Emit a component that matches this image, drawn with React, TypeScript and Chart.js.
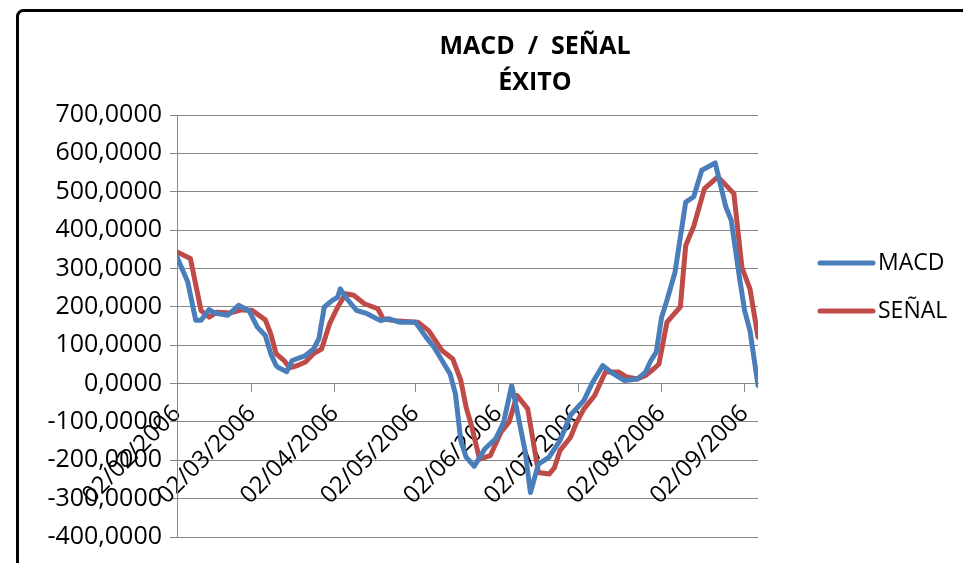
import { useEffect, useRef } from 'react';
import { Chart, registerables } from 'chart.js';

Chart.register(...registerables);

const titleLines = ['MACD  /  SEÑAL', 'ÉXITO'];

const tickLabels = [
  '02/02/2006', '02/03/2006', '02/04/2006', '02/05/2006',
  '02/06/2006', '02/07/2006', '02/08/2006', '02/09/2006',
];

const macdDates = [
  '02/02/2006', '06/02/2006', '09/02/2006', '11/02/2006', '14/02/2006', '16/02/2006', '21/02/2006', '25/02/2006',
  '01/03/2006', '04/03/2006', '07/03/2006', '09/03/2006', '11/03/2006', '12/03/2006', '15/03/2006', '17/03/2006',
  '22/03/2006', '25/03/2006', '27/03/2006', '29/03/2006', '01/04/2006', '03/04/2006', '04/04/2006', '06/04/2006',
  '10/04/2006', '14/04/2006', '19/04/2006', '22/04/2006', '26/04/2006', '02/05/2006', '06/05/2006', '09/05/2006',
  '12/05/2006', '15/05/2006', '17/05/2006', '19/05/2006', '21/05/2006', '24/05/2006', '28/05/2006', '01/06/2006',
  '04/06/2006', '07/06/2006', '08/06/2006', '12/06/2006', '14/06/2006', '17/06/2006', '21/06/2006', '25/06/2006',
  '29/06/2006', '04/07/2006', '07/07/2006', '11/07/2006', '14/07/2006', '19/07/2006', '24/07/2006', '27/07/2006',
  '29/07/2006', '31/07/2006', '02/08/2006', '04/08/2006', '07/08/2006', '11/08/2006', '14/08/2006', '17/08/2006',
  '22/08/2006', '26/08/2006', '28/08/2006', '31/08/2006', '02/09/2006', '04/09/2006', '07/09/2006',
];
const macdValues = [
  330, 265, 165, 165, 193, 184, 178, 204,
  189, 147, 125, 78, 47, 41, 31, 60,
  73, 90, 117, 199, 217, 225, 247, 225,
  191, 182, 164, 169, 160, 160, 121, 95,
  60, 25, -27, -149, -192, -216, -170, -144,
  -101, -5, -36, -175, -284, -210, -192, -149,
  -82, -44, 0, 47, 30, 8, 12, 30,
  60, 82, 173, 217, 290, 473, 487, 556,
  575, 460, 426, 280, 190, 138, -5,
];

const senalDates = [
  '02/02/2006', '07/02/2006', '11/02/2006', '14/02/2006', '17/02/2006', '22/02/2006', '26/02/2006', '02/03/2006',
  '07/03/2006', '09/03/2006', '11/03/2006', '14/03/2006', '16/03/2006', '19/03/2006', '22/03/2006', '25/03/2006',
  '28/03/2006', '31/03/2006', '03/04/2006', '06/04/2006', '09/04/2006', '13/04/2006', '18/04/2006', '20/04/2006',
  '24/04/2006', '03/05/2006', '07/05/2006', '12/05/2006', '16/05/2006', '19/05/2006', '21/05/2006', '23/05/2006',
  '26/05/2006', '30/05/2006', '03/06/2006', '06/06/2006', '09/06/2006', '13/06/2006', '17/06/2006', '21/06/2006',
  '23/06/2006', '25/06/2006', '29/06/2006', '01/07/2006', '04/07/2006', '08/07/2006', '12/07/2006', '17/07/2006',
  '20/07/2006', '24/07/2006', '27/07/2006', '30/07/2006', '01/08/2006', '04/08/2006', '09/08/2006', '11/08/2006',
  '14/08/2006', '18/08/2006', '23/08/2006', '29/08/2006', '01/09/2006', '04/09/2006', '07/09/2006',
];
const senalValues = [
  343, 326, 190, 173, 186, 184, 192, 191,
  166, 130, 78, 60, 41, 47, 56, 78,
  90, 156, 199, 234, 230, 208, 195, 169,
  164, 160, 138, 86, 64, 8, -62, -110,
  -197, -188, -127, -101, -31, -66, -232, -236,
  -219, -175, -140, -105, -66, -31, 30, 30,
  17, 12, 21, 38, 51, 160, 200, 360,
  410, 508, 539, 495, 302, 247, 121,
];

const yMin = -400;
const yMax = 700;
const yStep = 100;

const FONT = "'Open Sans', sans-serif";
const BLUE = '#4A7EBB';
const RED = '#BE4B48';
const GRID = '#868686';

const dayMs = 86400000;
const parseDate = (s: string) => {
  const [d, m, y] = s.split('/').map(Number);
  return Date.UTC(y, m - 1, d);
};
const base = parseDate(tickLabels[0]);
const toDay = (s: string) => Math.round((parseDate(s) - base) / dayMs);
const tickDays = tickLabels.map(toDay);
const lastDay = Math.max(toDay(macdDates[macdDates.length - 1]), toDay(senalDates[senalDates.length - 1]));

const fmt = (v: number) => Number(v).toFixed(4).replace('.', ',');

const CANVAS_W = 1070;
const CANVAS_H = 563;

const framePlugin = {
  id: 'frame',
  beforeDraw(chart: any) {
    const ctx = chart.ctx;
    ctx.save();
    ctx.fillStyle = '#ffffff';
    ctx.fillRect(0, 0, chart.width, chart.height);
    ctx.strokeStyle = '#000000';
    ctx.lineWidth = 3;
    ctx.beginPath();
    ctx.moveTo(17.5, chart.height + 20);
    ctx.arcTo(17.5, 10.5, chart.width + 20, 10.5, 6);
    ctx.lineTo(chart.width + 20, 10.5);
    ctx.stroke();
    ctx.restore();
  },
};

const sideLegend = {
  id: 'sideLegend',
  afterDraw(chart: any) {
    const ctx = chart.ctx;
    const area = chart.chartArea;
    const x0 = area.right + 62;
    const len = 53;
    ctx.save();
    chart.data.datasets.forEach((ds: any, i: number) => {
      const y = area.top + 148 + i * 48;
      ctx.strokeStyle = ds.borderColor;
      ctx.lineWidth = 5;
      ctx.lineCap = 'round';
      ctx.beginPath();
      ctx.moveTo(x0, y);
      ctx.lineTo(x0 + len, y);
      ctx.stroke();
      ctx.fillStyle = '#000000';
      ctx.font = `23px ${FONT}`;
      ctx.textAlign = 'left';
      ctx.textBaseline = 'middle';
      ctx.fillText(ds.label, x0 + len + 5, y);
    });
    ctx.restore();
  },
};

export default function App() {
  const ref = useRef<HTMLCanvasElement | null>(null);

  useEffect(() => {
    if (!ref.current) return;
    const lineStyle = {
      borderWidth: 5,
      pointRadius: 0,
      tension: 0,
      borderJoinStyle: 'round',
      borderCapStyle: 'round',
    };
    const chart = new Chart(ref.current, {
      type: 'line',
      data: {
        datasets: [
          {
            label: 'MACD',
            data: macdDates.map((d, i) => ({ x: toDay(d), y: macdValues[i] })),
            borderColor: BLUE,
            backgroundColor: BLUE,
            ...lineStyle,
          },
          {
            label: 'SEÑAL',
            data: senalDates.map((d, i) => ({ x: toDay(d), y: senalValues[i] })),
            borderColor: RED,
            backgroundColor: RED,
            ...lineStyle,
          },
        ],
      },
      options: {
        animation: false,
        responsive: false,
        maintainAspectRatio: false,
        events: [],
        layout: { padding: { left: 0, right: 0, top: 0, bottom: 26 } },
        plugins: {
          legend: { display: false },
          tooltip: { enabled: false },
          title: {
            display: true,
            fullSize: true,
            text: titleLines,
            color: '#000000',
            font: { family: FONT, size: 25, weight: 'bold', lineHeight: 1.44 },
            padding: { top: 29, bottom: 14 },
          },
        },
        scales: {
          x: {
            type: 'linear',
            position: { y: 0 },
            min: 0,
            max: lastDay,
            afterBuildTicks: (s: any) => {
              s.ticks = tickDays.map((v) => ({ value: v }));
            },
            afterFit: (s: any) => {
              s.height = 0;
            },
            ticks: {
              autoSkip: false,
              minRotation: 45,
              maxRotation: 45,
              padding: 3,
              color: '#000000',
              font: { family: FONT, size: 24, lineHeight: 1.8 },
              callback: (_v: any, i: number) => tickLabels[i],
            },
            grid: { drawOnChartArea: false, drawTicks: true, tickLength: 8, color: GRID, lineWidth: 1 },
            border: { display: true, color: GRID, width: 1 },
          },
          y: {
            min: yMin,
            max: yMax,
            afterFit: (s: any) => {
              s.width = 177;
            },
            ticks: {
              stepSize: yStep,
              padding: 8,
              color: '#000000',
              font: { family: FONT, size: 25 },
              callback: (v: any) => fmt(v),
            },
            grid: { color: GRID, lineWidth: 1, tickLength: 7 },
            border: { display: true, color: GRID, width: 1 },
          },
          legendSpace: {
            type: 'linear',
            position: 'right',
            display: true,
            min: 0,
            max: 1,
            afterFit: (s: any) => {
              s.width = CANVAS_W - 758;
            },
            ticks: { display: false },
            grid: { display: false, drawTicks: false },
            border: { display: false },
          },
        },
      },
      plugins: [framePlugin, sideLegend],
    } as any);
    return () => chart.destroy();
  }, []);

  return (
    <div style={{ position: 'absolute', left: 0, top: 0, width: 963, height: 563, overflow: 'hidden', background: '#fff' }}>
      <canvas ref={ref} width={CANVAS_W} height={CANVAS_H} style={{ display: 'block' }} />
    </div>
  );
}
